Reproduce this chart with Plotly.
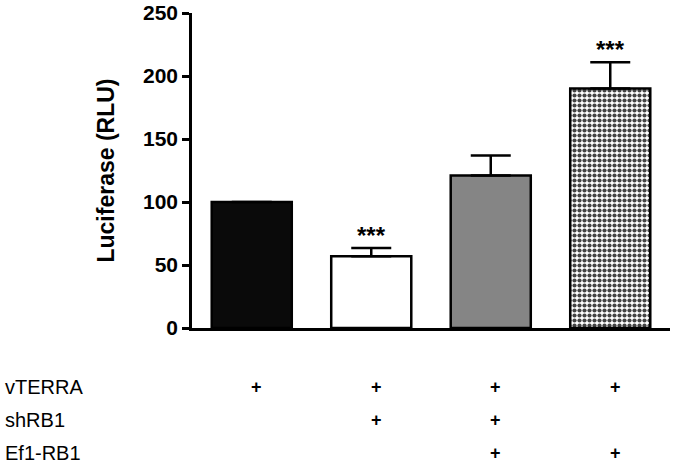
import plotly.graph_objects as go

# ---- data ----
groups = ["vTERRA", "vTERRA+shRB1", "vTERRA+shRB1+Ef1-RB1", "vTERRA+Ef1-RB1"]
luciferase = [100, 57, 121, 190]
error_up = [0, 6.5, 16, 21]
significance = ["", "***", "", "***"]
table_rows = ["vTERRA", "shRB1", "Ef1-RB1"]
vTERRA_flags = [1, 1, 1, 1]
shRB1_flags = [0, 1, 1, 0]
Ef1_RB1_flags = [0, 0, 1, 1]
table_flags = [vTERRA_flags, shRB1_flags, Ef1_RB1_flags]
y_ticks = [0, 50, 100, 150, 200, 250]

bar_colors = ["#0a0a0a", "#ffffff", "#858585", "#ffffff"]
pattern_shapes = ["", "", "", "."]

plot_left, plot_right, plot_top, plot_bottom = 192, 670, 13, 328
W, H = 675, 464

fig = go.Figure()
fig.add_trace(go.Bar(
    x=groups, y=luciferase,
    width=0.67,
    marker=dict(
        color=bar_colors,
        line=dict(color="black", width=2.5),
        pattern=dict(shape=pattern_shapes, size=5, solidity=0.55,
                     fgcolor="black", fgopacity=1, fillmode="overlay"),
    ),
    error_y=dict(type="data", array=error_up, arrayminus=[0]*4, symmetric=False,
                 color="black", thickness=2.5, width=20),
    showlegend=False,
    hoverinfo="skip",
))

# significance stars
for g, v, e, s in zip(groups, luciferase, error_up, significance):
    if s:
        fig.add_annotation(x=g, y=v + e, text="<b>" + s + "</b>", showarrow=False, yanchor="bottom",
                           yshift=-3, font=dict(family="Liberation Sans", size=24, color="black"))

# treatment table below chart
row_px = [387, 420, 453]
for name, flags, py in zip(table_rows, table_flags, row_px):
    yp = (plot_bottom - py) / (plot_bottom - plot_top)
    fig.add_annotation(xref="paper", yref="paper", x=(3 - plot_left) / (plot_right - plot_left),
                       y=yp, text=name, showarrow=False, xanchor="left", yanchor="middle",
                       font=dict(family="Liberation Sans", size=20, color="black"))
    for g, f in zip(groups, flags):
        if f:
            fig.add_annotation(xref="x", yref="paper", x=g, y=yp, text="<b>+</b>",
                               showarrow=False, xshift=5, yanchor="middle",
                               font=dict(family="Liberation Sans", size=18, color="black"))

fig.update_layout(
    width=W, height=H,
    margin=dict(l=plot_left, r=W - plot_right, t=plot_top, b=H - plot_bottom),
    plot_bgcolor="white", paper_bgcolor="white",
)
fig.update_xaxes(showticklabels=False, ticks="", showline=True, linecolor="black",
                 linewidth=2.5, range=[-0.5, 3.5], showgrid=False, zeroline=False,
                 automargin=False)
fig.update_yaxes(range=[0, 250], tickvals=y_ticks, ticks="outside", ticklen=7,
                 tickwidth=2.5, tickcolor="black", showline=True, linecolor="black",
                 linewidth=2.5, showgrid=False, zeroline=False, automargin=False,
                 ticklabeloverflow="allow",
                 tickfont=dict(family="Liberation Sans", size=21, color="black", weight="bold"),
                 title=dict(text="<b>Luciferase (RLU)</b>", standoff=22,
                            font=dict(family="Liberation Sans", size=23, color="black")))

# remove the default page margin so the figure sits at the window's corner
fig.write_html("out.html", config={"displayModeBar": False},
               post_script="document.body.style.margin='0px';")
